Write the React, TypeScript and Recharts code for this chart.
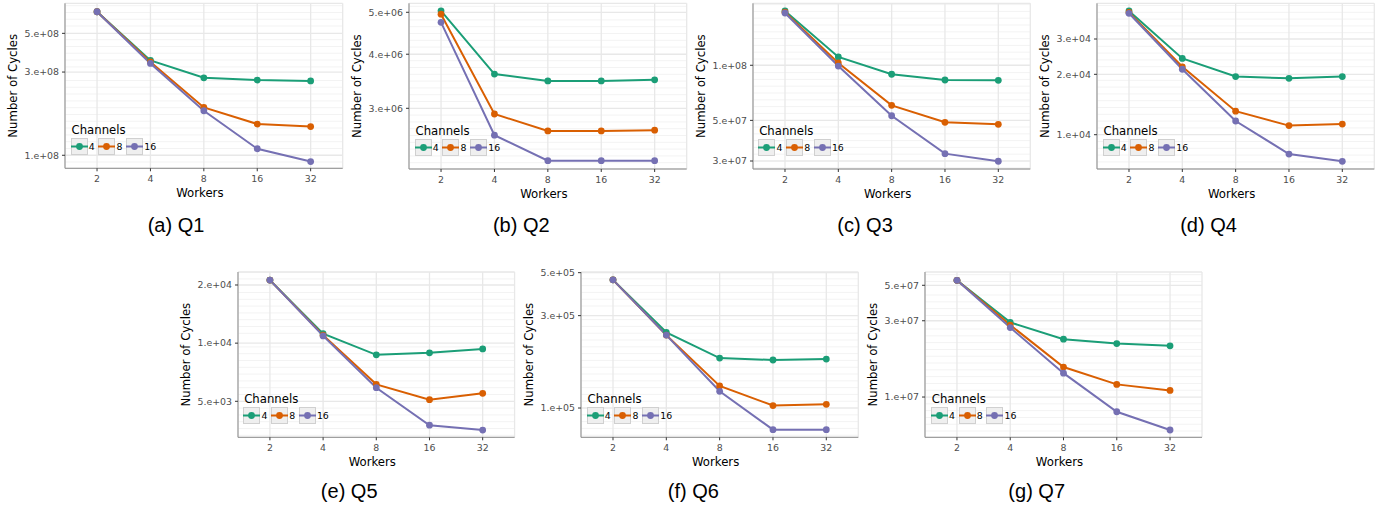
import React from 'react';
import { LineChart, Line, XAxis, YAxis, CartesianGrid, Legend } from 'recharts';

// ---------- data ----------
const workers = ['2', '4', '8', '16', '32'];
const channels = ['4', '8', '16'];
const colors = ['#1B9E77', '#D95F02', '#7570B3'];

const q1Ch4 = [6.65e8, 3.5e8, 2.78e8, 2.7e8, 2.67e8];
const q1Ch8 = [6.65e8, 3.43e8, 1.88e8, 1.51e8, 1.46e8];
const q1Ch16 = [6.65e8, 3.36e8, 1.8e8, 1.09e8, 9.2e7];

const q2Ch4 = [5.04e6, 3.6e6, 3.47e6, 3.47e6, 3.49e6];
const q2Ch8 = [4.95e6, 2.91e6, 2.66e6, 2.66e6, 2.67e6];
const q2Ch16 = [4.74e6, 2.6e6, 2.27e6, 2.27e6, 2.27e6];

const q3Ch4 = [1.98e8, 1.11e8, 8.93e7, 8.31e7, 8.28e7];
const q3Ch8 = [1.95e8, 1.03e8, 6.04e7, 4.88e7, 4.76e7];
const q3Ch16 = [1.93e8, 9.9e7, 5.3e7, 3.29e7, 2.99e7];

const q4Ch4 = [4.14e4, 2.4e4, 1.95e4, 1.91e4, 1.95e4];
const q4Ch8 = [4.07e4, 2.18e4, 1.31e4, 1.11e4, 1.13e4];
const q4Ch16 = [4.03e4, 2.12e4, 1.17e4, 8010, 7370];

const q5Ch4 = [2.12e4, 1.12e4, 8700, 8910, 9340];
const q5Ch8 = [2.12e4, 1.1e4, 6120, 5100, 5500];
const q5Ch16 = [2.12e4, 1.09e4, 5880, 3760, 3550];

const q6Ch4 = [4.59e5, 2.46e5, 1.81e5, 1.77e5, 1.79e5];
const q6Ch8 = [4.59e5, 2.38e5, 1.3e5, 1.03e5, 1.045e5];
const q6Ch16 = [4.59e5, 2.38e5, 1.22e5, 7.73e4, 7.73e4];

const q7Ch4 = [5.37e7, 2.93e7, 2.3e7, 2.16e7, 2.09e7];
const q7Ch8 = [5.37e7, 2.82e7, 1.54e7, 1.2e7, 1.1e7];
const q7Ch16 = [5.37e7, 2.72e7, 1.41e7, 8.09e6, 6.22e6];

const q1Ticks = [1e8, 3e8, 5e8];
const q1Labels = ['1.e+08', '3.e+08', '5.e+08'];
const q2Ticks = [3e6, 4e6, 5e6];
const q2Labels = ['3.e+06', '4.e+06', '5.e+06'];
const q3Ticks = [3e7, 5e7, 1e8];
const q3Labels = ['3.e+07', '5.e+07', '1.e+08'];
const q4Ticks = [1e4, 2e4, 3e4];
const q4Labels = ['1.e+04', '2.e+04', '3.e+04'];
const q5Ticks = [5e3, 1e4, 2e4];
const q5Labels = ['5.e+03', '1.e+04', '2.e+04'];
const q6Ticks = [1e5, 3e5, 5e5];
const q6Labels = ['1.e+05', '3.e+05', '5.e+05'];
const q7Ticks = [1e7, 3e7, 5e7];
const q7Labels = ['1.e+07', '3.e+07', '5.e+07'];

// ---------- layout ----------
type PanelCfg = {
  caption: string;
  series: number[][];
  ticks: number[];
  labels: string[];
  domain: [number, number];
  x0: number; x1: number; y0: number; y1: number; T: number;
  capX: number; capBase: number;
};

const panels: PanelCfg[] = [
  { caption: '(a) Q1', series: [q1Ch4, q1Ch8, q1Ch16], ticks: q1Ticks, labels: q1Labels, domain: [8.42e7, 7.435e8], x0: 65, x1: 342.7, y0: 3.3, y1: 168.3, T: 0, capX: 176, capBase: 231.5 },
  { caption: '(b) Q2', series: [q2Ch4, q2Ch8, q2Ch16], ticks: q2Ticks, labels: q2Labels, domain: [2.172e6, 5.245e6], x0: 409, x1: 686.7, y0: 3.3, y1: 169, T: 0, capX: 521.3, capBase: 231.5 },
  { caption: '(c) Q3', series: [q3Ch4, q3Ch8, q3Ch16], ticks: q3Ticks, labels: q3Labels, domain: [2.713e7, 2.18e8], x0: 752.7, x1: 1030, y0: 3.3, y1: 169, T: 0, capX: 865, capBase: 231.5 },
  { caption: '(d) Q4', series: [q4Ch4, q4Ch8, q4Ch16], ticks: q4Ticks, labels: q4Labels, domain: [6745, 4.52e4], x0: 1097, x1: 1374.3, y0: 3.3, y1: 169, T: 0, capX: 1208.5, capBase: 231.5 },
  { caption: '(e) Q5', series: [q5Ch4, q5Ch8, q5Ch16], ticks: q5Ticks, labels: q5Labels, domain: [3256, 2.335e4], x0: 237.7, x1: 514.3, y0: 272, y1: 437.3, T: 250, capX: 349.2, capBase: 497.5 },
  { caption: '(f) Q6', series: [q6Ch4, q6Ch8, q6Ch16], ticks: q6Ticks, labels: q6Labels, domain: [7.06e4, 5.04e5], x0: 581, x1: 858.3, y0: 272, y1: 437.3, T: 250, capX: 693.3, capBase: 497.5 },
  { caption: '(g) Q7', series: [q7Ch4, q7Ch8, q7Ch16], ticks: q7Ticks, labels: q7Labels, domain: [5.6e6, 6.055e7], x0: 925.3, x1: 1202.3, y0: 272, y1: 437.3, T: 250, capX: 1036.7, capBase: 497.5 },
];

const FONT = "'DejaVu Sans', sans-serif";
const BORDER = '#8C8C8C';

function minorValues(domain: [number, number], ticks: number[], plotH: number): number[] {
  const lo = Math.log10(domain[0]);
  const hi = Math.log10(domain[1]);
  const step = (6.8 * (hi - lo)) / plotH;
  const a = Math.log10(ticks[0]);
  const out: number[] = [];
  const kmin = Math.ceil((lo - a) / step);
  const kmax = Math.floor((hi - a) / step);
  for (let k = kmin; k <= kmax; k++) {
    const v = a + k * step;
    if (!ticks.some((t) => Math.abs(Math.log10(t) - v) < step * 0.5)) out.push(Math.pow(10, v));
  }
  return out;
}

const LegendBox = (props: any) => {
  const payload = (props && props.payload) || [];
  const items = channels.map((c, i) => {
    const p = payload.find((q: any) => String(q.value) === c);
    return { value: c, color: p && p.color ? p.color : colors[i] };
  });
  return (
    <div style={{ position: 'relative', width: 100, height: 34, fontFamily: FONT }}>
      <div style={{ position: 'absolute', left: 1.5, top: 1, fontSize: 11.7, lineHeight: '14px', color: '#000', whiteSpace: 'nowrap' }}>
        Channels
      </div>
      <div style={{ position: 'absolute', left: 0.5, top: 16, display: 'flex', alignItems: 'center', whiteSpace: 'nowrap' }}>
        {items.map((it, i) => (
          <div key={i} style={{ display: 'flex', alignItems: 'center', marginRight: 3.6 }}>
            <svg width={17} height={17} style={{ display: 'block' }}>
              <rect x={0.5} y={0.5} width={16} height={16} fill="#EFEFEF" stroke="#D0D0D0" strokeWidth={1} />
              <line x1={0} x2={17} y1={8.5} y2={8.5} stroke={it.color} strokeWidth={2} />
              <circle cx={8.5} cy={8.5} r={3.4} fill={it.color} />
            </svg>
            <span style={{ fontSize: 9.4, marginLeft: 1.2, lineHeight: '17px', color: '#000' }}>{it.value}</span>
          </div>
        ))}
      </div>
    </div>
  );
};

function Panel({ p }: { p: PanelCfg }) {
  const YW = 65;
  const XH = 38;
  const RM = 3;
  const L = p.x0 - YW;
  const plotW = p.x1 - p.x0;
  const plotH = p.y1 - p.y0;
  const width = YW + plotW + RM;
  const height = p.y1 - p.T + XH;
  const pad = (plotW * 0.6) / 5.2;
  const data = workers.map((w, i) => ({
    w,
    c4: p.series[0][i],
    c8: p.series[1][i],
    c16: p.series[2][i],
  }));
  const keys = ['c4', 'c8', 'c16'];
  const minor = minorValues(p.domain, p.ticks, plotH);
  return (
    <div style={{ position: 'absolute', left: L, top: p.T, fontFamily: FONT }}>
      <LineChart
        width={width}
        height={height}
        data={data}
        margin={{ top: p.y0 - p.T, right: RM, bottom: 0, left: 0 }}
      >
        <CartesianGrid horizontalValues={minor} vertical={false} stroke="#F3F3F3" strokeWidth={1} />
        <CartesianGrid stroke="#E8E8E8" strokeWidth={1.3} />
        <XAxis
          dataKey="w"
          interval={0}
          padding={{ left: pad, right: pad }}
          height={XH}
          tickSize={3}
          tickMargin={4}
          tick={{ fontSize: 9.4, fill: '#4D4D4D' }}
          tickLine={{ stroke: '#333333' }}
          axisLine={{ stroke: BORDER }}
          label={{ value: 'Workers', position: 'insideBottom', offset: XH - 28.7, dx: -4, style: { fontSize: 11.7, fill: '#000' } }}
        />
        <XAxis xAxisId="top" orientation="top" dataKey="w" height={0} tick={false} tickLine={false} axisLine={{ stroke: BORDER }} />
        <YAxis
          scale="log"
          type="number"
          domain={p.domain}
          allowDataOverflow
          ticks={p.ticks}
          interval={0}
          tickFormatter={(v: number) => {
            const idx = p.ticks.findIndex((t) => Math.abs(t - v) / t < 1e-6);
            return idx >= 0 ? p.labels[idx] : '';
          }}
          width={YW}
          tickSize={3}
          tickMargin={3}
          tick={{ fontSize: 9.4, fill: '#4D4D4D' }}
          tickLine={{ stroke: '#333333' }}
          axisLine={{ stroke: BORDER }}
          label={{ value: 'Number of Cycles', angle: -90, position: 'insideLeft', offset: 13.2, style: { textAnchor: 'middle', fontSize: 11.7, fill: '#000' } }}
        />
        <YAxis yAxisId="right" orientation="right" width={0} tick={false} tickLine={false} axisLine={{ stroke: BORDER }} domain={[0, 1]} />
        <Legend
          align="center"
          verticalAlign="middle"
          layout="horizontal"
          content={<LegendBox />}
          wrapperStyle={{ left: YW + 5, top: p.y1 - p.T - 46, width: 'auto', height: 'auto' }}
        />
        {keys.map((k, i) => (
          <Line
            key={k}
            dataKey={k}
            name={channels[i]}
            type="linear"
            stroke={colors[i]}
            strokeWidth={2}
            dot={{ r: 3.4, fill: colors[i], stroke: colors[i], strokeWidth: 0 }}
            activeDot={false}
            isAnimationActive={false}
          />
        ))}
      </LineChart>
    </div>
  );
}

export default function App() {
  return (
    <div style={{ position: 'absolute', left: 0, top: 0, width: 1382, height: 509, background: '#fff', overflow: 'hidden' }}>
      {panels.map((p, i) => (
        <Panel key={i} p={p} />
      ))}
      {panels.map((p, i) => (
        <div
          key={'cap' + i}
          style={{
            position: 'absolute',
            left: p.capX - 100,
            width: 200,
            top: p.capBase - 16.9,
            textAlign: 'center',
            fontFamily: "'Liberation Sans', Arial, sans-serif",
            fontSize: 20,
            lineHeight: '20px',
            color: '#000',
            whiteSpace: 'nowrap',
          }}
        >
          {p.caption}
        </div>
      ))}
    </div>
  );
}
